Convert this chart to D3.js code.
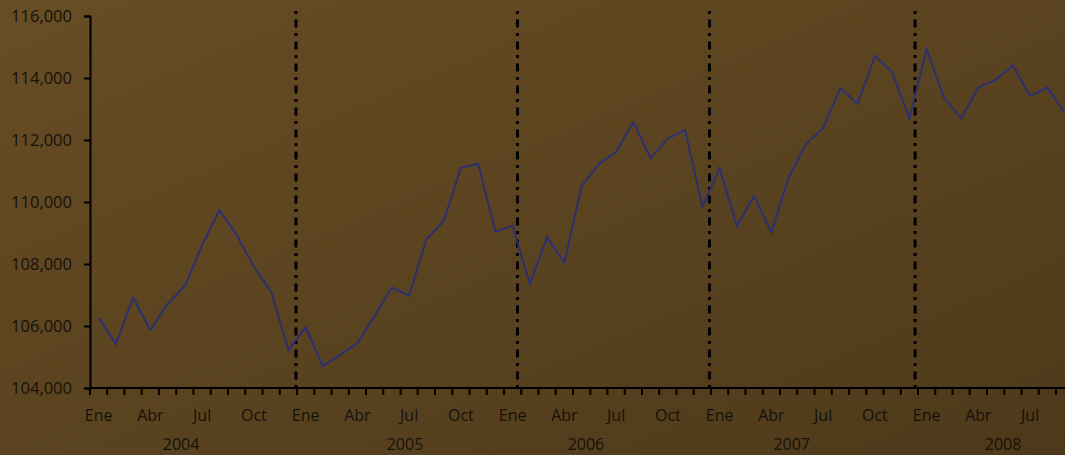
<!DOCTYPE html>
<html>
<head>
<meta charset="utf-8">
<script src="https://cdn.jsdelivr.net/npm/d3@7"></script>
<style>
  html, body { margin: 0; padding: 0; background: #5a4420; overflow: hidden; }
  svg { display: block; }
  text { font-family: "Open Sans", Lato, sans-serif; fill: #15110a; }
</style>
</head>
<body>
<div id="container"></div>
<script>
// monthly values, Ene 2004 - Sep 2008
const v2004 = [106270, 105420, 106910, 105870, 106710, 107290, 108610, 109740, 108940, 107910, 107110, 105230];
const v2005 = [105950, 104710, 105070, 105440, 106330, 107240, 106980, 108800, 109380, 111100, 111230, 109040];
const v2006 = [109230, 107350, 108860, 108050, 110520, 111230, 111620, 112580, 111410, 112050, 112320, 109850];
const v2007 = [111090, 109230, 110200, 109020, 110790, 111860, 112380, 113680, 113160, 114720, 114190, 112700];
const v2008 = [114930, 113370, 112700, 113690, 113940, 114410, 113420, 113690, 112890];

const years = ["2004", "2005", "2006", "2007", "2008"];
const monthLabels = ["Ene", "", "", "Abr", "", "", "Jul", "", "", "Oct", "", ""];
const yTicks = [104000, 106000, 108000, 110000, 112000, 114000, 116000];
// where the year captions and the dash-dot separators sit, in month units
const yearLabelAt = [5.28, 18.26, 28.75, 40.68, 52.93];
const separatorsAt = [11.94, 24.78, 35.91, 47.83];

const values = [].concat(v2004, v2005, v2006, v2007, v2008);
const nCats = 58;

const width = 1065, height = 455;
const mLeft = 90, mTop = 16, mBottom = 388, catW = 17.25;

const svg = d3.select("#container").append("svg")
  .attr("width", width)
  .attr("height", height);

const defs = svg.append("defs");
const grad = defs.append("linearGradient")
  .attr("id", "bg").attr("x1", 0).attr("y1", 0).attr("x2", 1).attr("y2", 1);
grad.append("stop").attr("offset", "0%").attr("stop-color", "#684d25");
grad.append("stop").attr("offset", "100%").attr("stop-color", "#4d391a");

svg.append("rect").attr("width", width).attr("height", height).attr("fill", "url(#bg)");

const x = d3.scaleLinear().domain([0, nCats]).range([mLeft, mLeft + nCats * catW]);
const y = d3.scaleLinear().domain([104000, 116000]).range([mBottom, mTop]);

// y axis
const yAxis = svg.append("g")
  .attr("transform", `translate(${mLeft},0)`)
  .call(d3.axisLeft(y).tickValues(yTicks).tickFormat(d3.format(",")).tickSize(6).tickPadding(12));
yAxis.select(".domain").attr("stroke", "#000").attr("stroke-width", 2);
yAxis.selectAll(".tick line").attr("stroke", "#000").attr("stroke-width", 2);
yAxis.selectAll(".tick text").attr("font-size", 16.5).attr("fill", "#15110a");

// x axis: ticks between categories
const xg = svg.append("g");
xg.append("line")
  .attr("x1", x(0)).attr("x2", x(nCats))
  .attr("y1", mBottom).attr("y2", mBottom)
  .attr("stroke", "#000").attr("stroke-width", 2);
xg.selectAll("line.tk")
  .data(d3.range(nCats + 1))
  .enter().append("line").attr("class", "tk")
  .attr("x1", d => x(d)).attr("x2", d => x(d))
  .attr("y1", mBottom).attr("y2", mBottom + 7)
  .attr("stroke", "#000").attr("stroke-width", 2);

// only the labels that fall inside the visible part of the axis
const monthCats = d3.range(values.length).map(i => ({ i, label: monthLabels[i % 12] })).filter(d => d.label);
xg.selectAll("text.month")
  .data(monthCats)
  .enter().append("text").attr("class", "month")
  .attr("x", d => x(d.i + 0.5))
  .attr("y", 421)
  .attr("text-anchor", "middle")
  .attr("font-size", 16)
  .text(d => d.label);

xg.selectAll("text.year")
  .data(years)
  .enter().append("text").attr("class", "year")
  .attr("x", (d, i) => x(yearLabelAt[i]))
  .attr("y", 450)
  .attr("text-anchor", "middle")
  .attr("font-size", 16)
  .text(d => d);

// year separators
svg.append("g")
  .selectAll("line")
  .data(separatorsAt)
  .enter().append("line")
  .attr("x1", d => x(d)).attr("x2", d => x(d))
  .attr("y1", 11).attr("y2", mBottom + 3)
  .attr("stroke", "#000")
  .attr("stroke-width", 3)
  .attr("stroke-dasharray", "3,5.5,8,5.5");

// series
const line = d3.line()
  .x((d, i) => x(i + 0.5))
  .y(d => y(d));
svg.append("path")
  .datum(values)
  .attr("d", line)
  .attr("fill", "none")
  .attr("stroke", "#2c2f72")
  .attr("stroke-width", 2)
  .attr("stroke-linejoin", "miter");
</script>
</body>
</html>
